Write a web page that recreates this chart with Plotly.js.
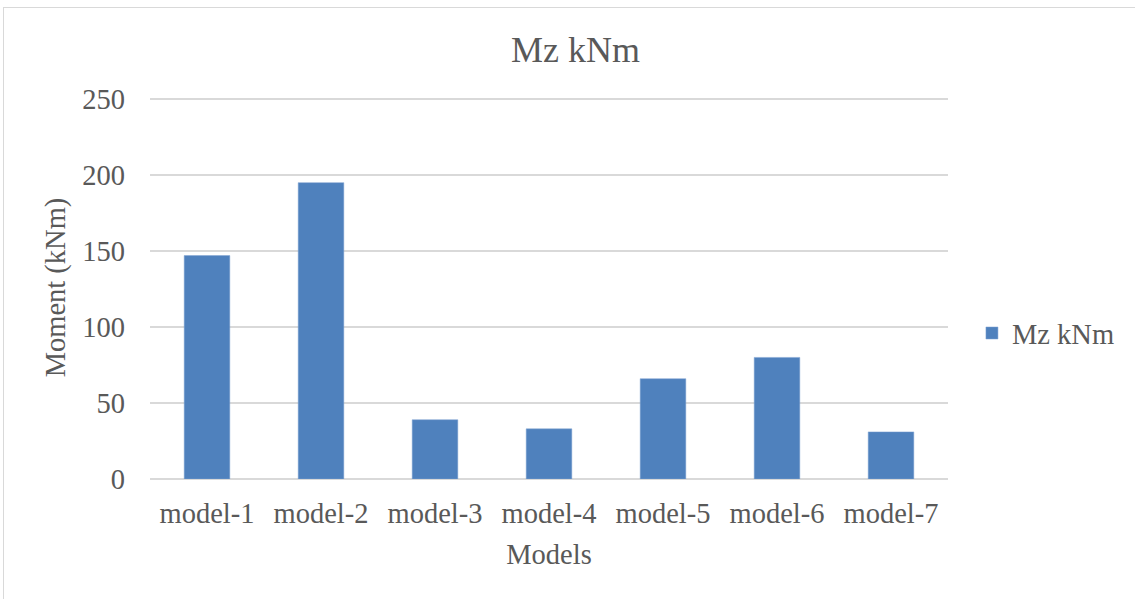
<!DOCTYPE html>
<html>
<head>
<meta charset="utf-8">
<script src="https://cdn.plot.ly/plotly-3.0.1.min.js"></script>
<style>
  html, body { margin: 0; padding: 0; background: #fff; }
  #chart { width: 1135px; height: 599px; }
  #frame { position: absolute; left: 3px; top: 7px; width: 1200px; height: 700px;
           border: 1px solid #d9d9d9; pointer-events: none; }
</style>
</head>
<body>
<div id="chart"></div>
<div id="frame"></div>
<script>
// Bending moment Mz per model
const models = ['model-1', 'model-2', 'model-3', 'model-4', 'model-5', 'model-6', 'model-7'];
const mzValues = [147, 195, 39, 33, 66, 80, 31];
const seriesName = 'Mz kNm';
const yTicks = [0, 50, 100, 150, 200, 250];

const textColor = '#595959';
const fontFamily = '"Liberation Serif", "Times New Roman", serif';
const labelSize = 28.5;

const trace = {
  type: 'bar',
  x: models,
  y: mzValues,
  name: seriesName,
  marker: { color: '#4F81BD', line: { color: '#7FA3D3', width: 0.5 } },
  showlegend: true,
  hoverinfo: 'x+y'
};

const layout = {
  width: 1135,
  height: 599,
  margin: { l: 150, r: 187, t: 96, b: 120, autoexpand: false },
  paper_bgcolor: '#ffffff',
  plot_bgcolor: '#ffffff',
  font: { family: fontFamily, color: textColor, size: labelSize },
  title: {
    text: 'Mz kNm',
    font: { family: fontFamily, size: 36, color: textColor },
    x: 0.507, xanchor: 'center',
    y: 0.918, yanchor: 'middle'
  },
  bargap: 0.6,
  xaxis: {
    title: { text: 'Models', font: { size: labelSize, color: textColor }, standoff: 16 },
    tickfont: { size: labelSize, color: textColor },
    ticklabelstandoff: 14,
    showgrid: false,
    showline: false,
    ticks: '',
    automargin: false
  },
  yaxis: {
    title: { text: 'Moment (kNm)', font: { size: labelSize, color: textColor }, standoff: 8 },
    range: [0, 252],
    tickvals: yTicks,
    ticktext: yTicks.map(String),
    tickfont: { size: labelSize, color: textColor },
    ticklabelstandoff: 24,
    gridcolor: '#d9d9d9',
    gridwidth: 1.5,
    zeroline: true,
    zerolinecolor: '#d9d9d9',
    zerolinewidth: 1.5,
    showline: false,
    ticks: '',
    automargin: false
  },
  legend: {
    x: 1.03, xanchor: 'left',
    y: 0.38, yanchor: 'middle',
    font: { size: labelSize, color: textColor },
    itemwidth: 30,
    bgcolor: 'rgba(0,0,0,0)'
  }
};

Plotly.newPlot('chart', [trace], layout, { displayModeBar: false, staticPlot: true });
</script>
</body>
</html>
